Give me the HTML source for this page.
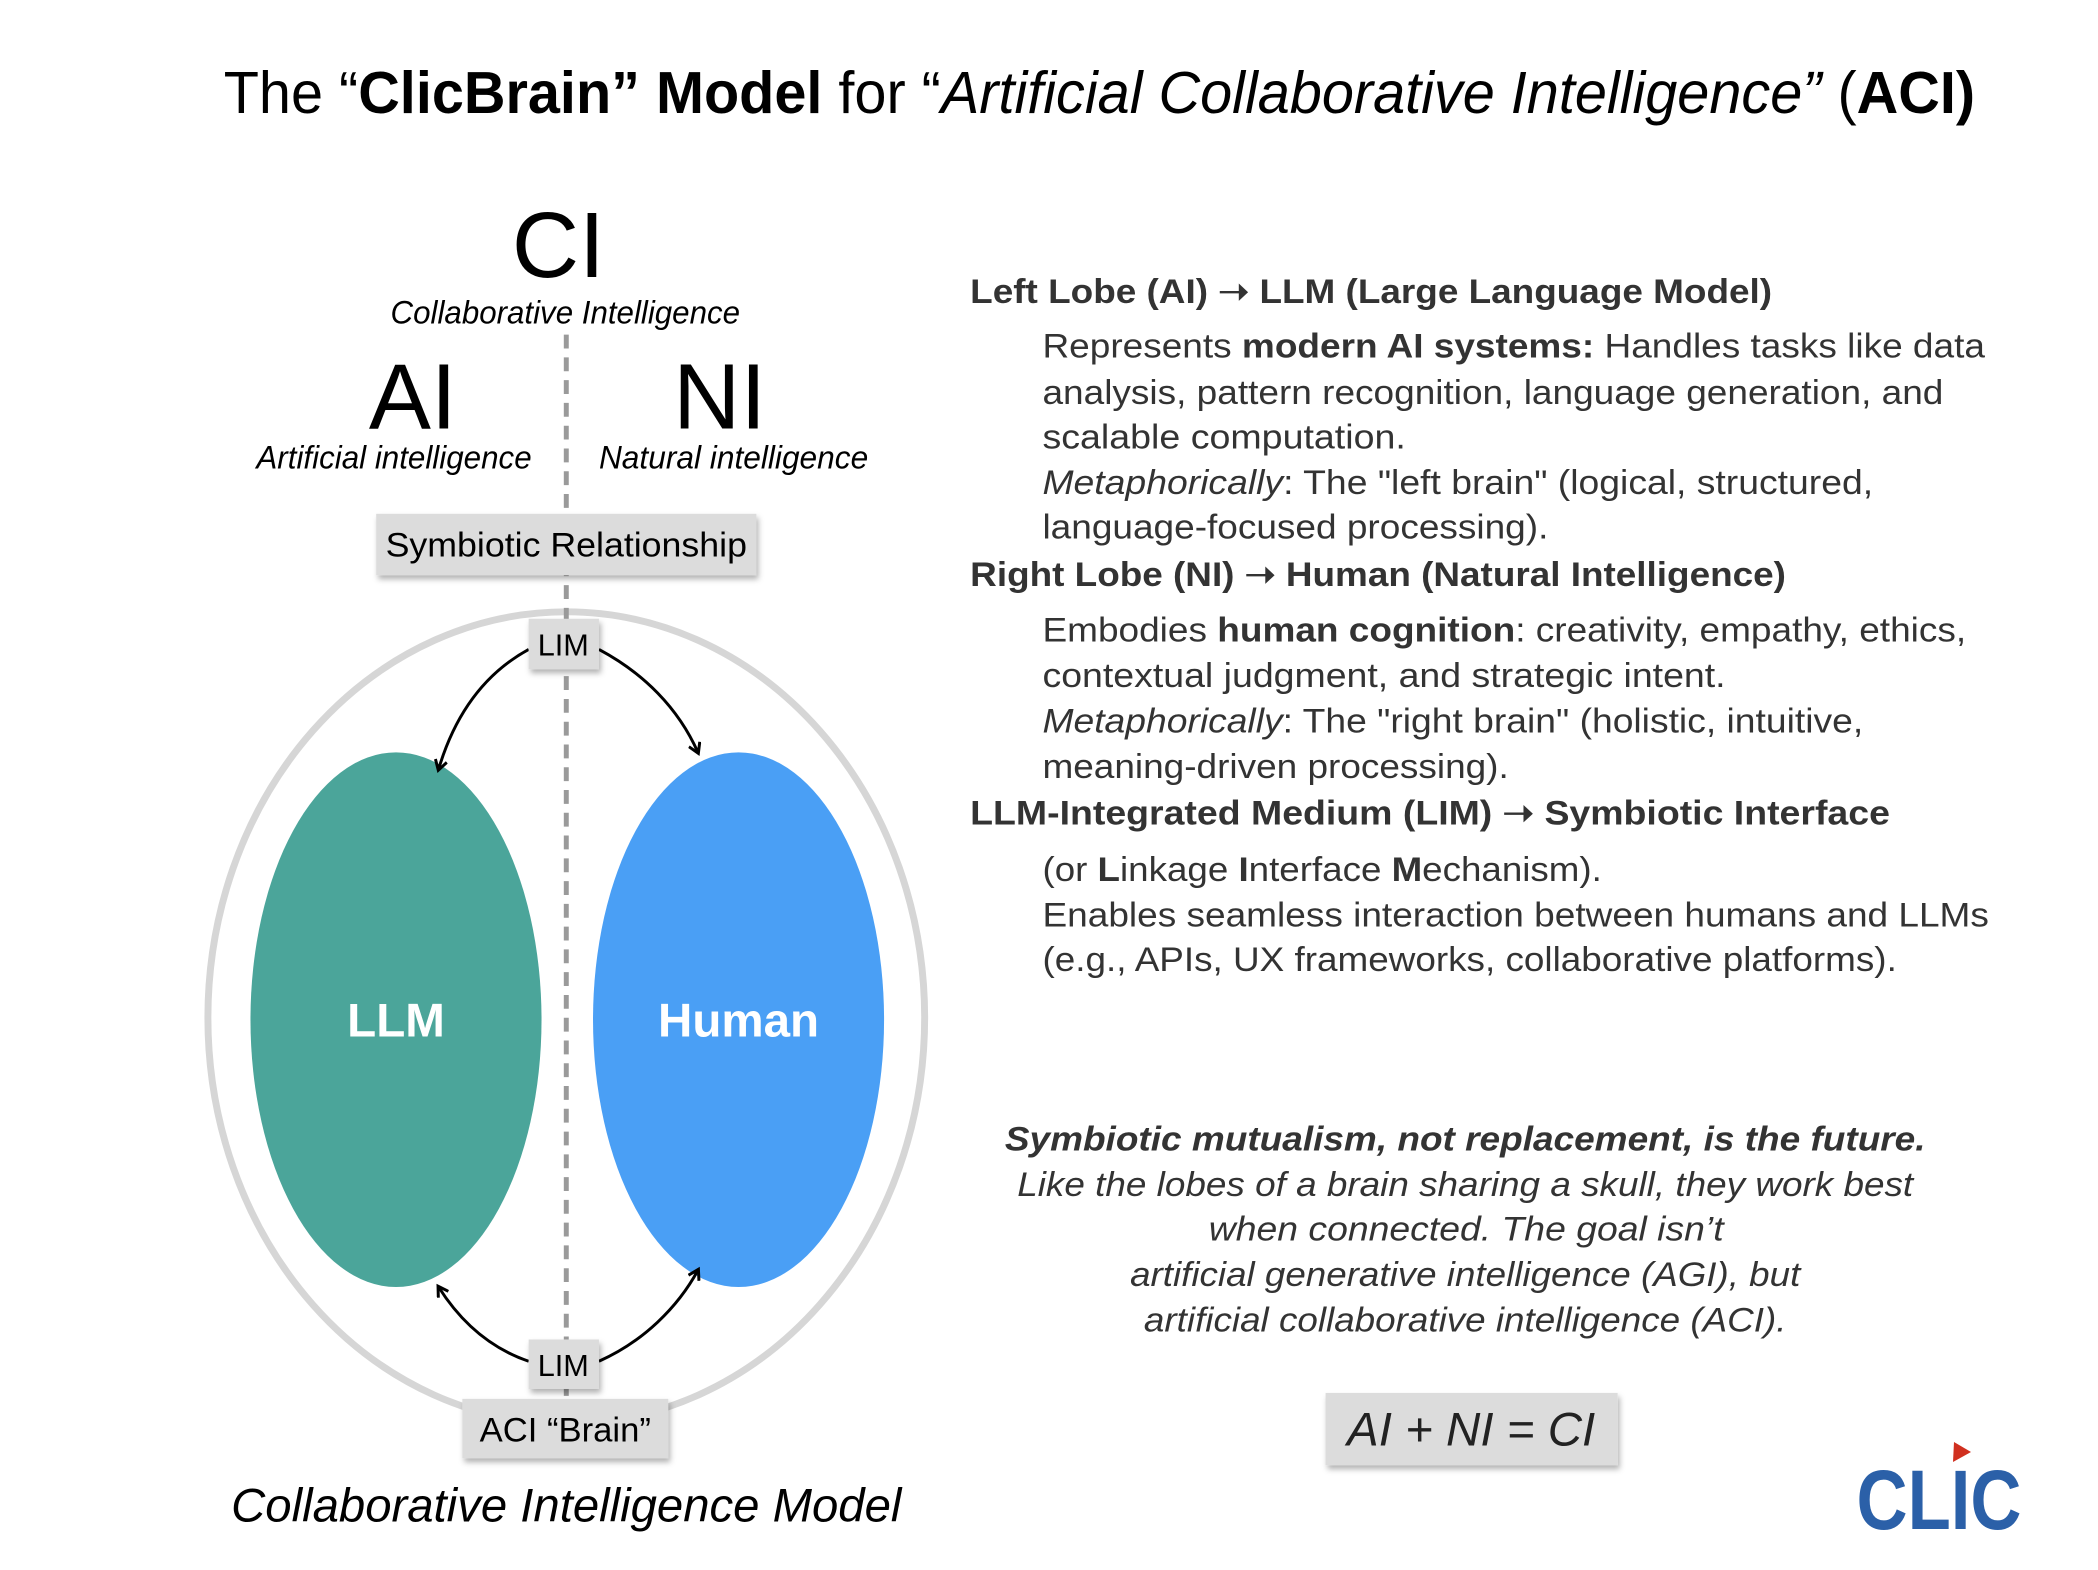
<!DOCTYPE html>
<html><head><meta charset="utf-8"><style>
html,body{margin:0;padding:0;background:#fff;}
svg{display:block;font-family:"Liberation Sans",Arial,sans-serif;}
</style></head><body>
<svg width="2098" height="1570" viewBox="0 0 2098 1570" xmlns="http://www.w3.org/2000/svg">
<defs>
<filter id="sh" x="-20%" y="-20%" width="140%" height="150%"><feDropShadow dx="2" dy="4" stdDeviation="3" flood-color="#000" flood-opacity="0.3"/></filter>
<marker id="ah" markerWidth="14" markerHeight="14" refX="10" refY="7" orient="auto" markerUnits="userSpaceOnUse"><path d="M1,1 L11,7 L1,13" fill="none" stroke="#000" stroke-width="3"/></marker>
</defs>
<rect width="2098" height="1570" fill="#fff"/>
<g transform="scale(0.99)">
<!-- Title -->
<text x="226" y="114" font-size="60" fill="#000" textLength="1769" lengthAdjust="spacingAndGlyphs">The “<tspan font-weight="bold">ClicBrain” Model</tspan> for “<tspan font-style="italic">Artificial Collaborative Intelligence”</tspan> (<tspan font-weight="bold">ACI)</tspan></text>

<!-- left diagram -->
<text x="564" y="280" font-size="94" text-anchor="middle">CI</text>
<text x="571" y="327" font-size="33" font-style="italic" text-anchor="middle" textLength="353" lengthAdjust="spacingAndGlyphs">Collaborative Intelligence</text>
<text x="417" y="433" font-size="94" text-anchor="middle">AI</text>
<text x="727" y="433" font-size="94" text-anchor="middle">NI</text>
<text x="398" y="473" font-size="33" font-style="italic" text-anchor="middle" textLength="278" lengthAdjust="spacingAndGlyphs">Artificial intelligence</text>
<text x="741" y="473" font-size="33" font-style="italic" text-anchor="middle" textLength="272" lengthAdjust="spacingAndGlyphs">Natural intelligence</text>

<ellipse cx="572" cy="1028" rx="362" ry="410" fill="none" stroke="#d6d6d6" stroke-width="7"/>
<ellipse cx="400" cy="1030" rx="147" ry="270" fill="#4ba59a"/>
<ellipse cx="746" cy="1030" rx="147" ry="270" fill="#4a9ff5"/>
<line x1="572" y1="338" x2="572" y2="1434" stroke="#9a9a9a" stroke-width="5" stroke-dasharray="14,9"/>
<text x="400" y="1047" font-size="48" font-weight="bold" fill="#fff" text-anchor="middle">LLM</text>
<text x="746" y="1047" font-size="48" font-weight="bold" fill="#fff" text-anchor="middle">Human</text>

<rect x="380" y="519" width="384" height="62" fill="#dcdcdc" filter="url(#sh)"/>
<text x="572" y="562" font-size="35" text-anchor="middle" textLength="365" lengthAdjust="spacingAndGlyphs">Symbiotic Relationship</text>

<path d="M534,656 C490,680 460,720 443,777" fill="none" stroke="#000" stroke-width="3" marker-end="url(#ah)"/>
<path d="M605,656 C650,680 685,715 705,760" fill="none" stroke="#000" stroke-width="3" marker-end="url(#ah)"/>
<path d="M534,1375 C490,1360 462,1330 443,1300" fill="none" stroke="#000" stroke-width="3" marker-end="url(#ah)"/>
<path d="M605,1375 C650,1355 685,1320 705,1283" fill="none" stroke="#000" stroke-width="3" marker-end="url(#ah)"/>

<rect x="534" y="625" width="71" height="51" fill="#dcdcdc" filter="url(#sh)"/>
<text x="569" y="662" font-size="31" text-anchor="middle">LIM</text>
<rect x="534" y="1353" width="71" height="50" fill="#dcdcdc" filter="url(#sh)"/>
<text x="569" y="1390" font-size="31" text-anchor="middle">LIM</text>
<rect x="467" y="1413" width="208" height="60" fill="#dcdcdc" filter="url(#sh)"/>
<text x="571" y="1456" font-size="35" text-anchor="middle">ACI “Brain”</text>

<text x="572" y="1537" font-size="48" font-style="italic" text-anchor="middle" textLength="677" lengthAdjust="spacingAndGlyphs">Collaborative Intelligence Model</text>

<!-- right text -->
<g font-size="35" fill="#333">
<text x="980" y="306" font-weight="bold" textLength="810" lengthAdjust="spacingAndGlyphs">Left Lobe (AI) ➝ LLM (Large Language Model)</text>
<text x="1053" y="361" textLength="952" lengthAdjust="spacingAndGlyphs">Represents <tspan font-weight="bold">modern AI systems:</tspan> Handles tasks like data</text>
<text x="1053" y="408" textLength="910" lengthAdjust="spacingAndGlyphs">analysis, pattern recognition, language generation, and</text>
<text x="1053" y="453" textLength="367" lengthAdjust="spacingAndGlyphs">scalable computation.</text>
<text x="1053" y="499" textLength="839" lengthAdjust="spacingAndGlyphs"><tspan font-style="italic">Metaphorically</tspan>: The "left brain" (logical, structured,</text>
<text x="1053" y="544" textLength="511" lengthAdjust="spacingAndGlyphs">language-focused processing).</text>
<text x="980" y="592" font-weight="bold" textLength="824" lengthAdjust="spacingAndGlyphs">Right Lobe (NI) ➝ Human (Natural Intelligence)</text>
<text x="1053" y="648" textLength="933" lengthAdjust="spacingAndGlyphs">Embodies <tspan font-weight="bold">human cognition</tspan>: creativity, empathy, ethics,</text>
<text x="1053" y="694" textLength="690" lengthAdjust="spacingAndGlyphs">contextual judgment, and strategic intent.</text>
<text x="1053" y="740" textLength="829" lengthAdjust="spacingAndGlyphs"><tspan font-style="italic">Metaphorically</tspan>: The "right brain" (holistic, intuitive,</text>
<text x="1053" y="786" textLength="471" lengthAdjust="spacingAndGlyphs">meaning-driven processing).</text>
<text x="980" y="833" font-weight="bold" textLength="929" lengthAdjust="spacingAndGlyphs">LLM-Integrated Medium (LIM) ➝ Symbiotic Interface</text>
<text x="1053" y="890" textLength="565" lengthAdjust="spacingAndGlyphs">(or <tspan font-weight="bold">L</tspan>inkage <tspan font-weight="bold">I</tspan>nterface <tspan font-weight="bold">M</tspan>echanism).</text>
<text x="1053" y="936" textLength="956" lengthAdjust="spacingAndGlyphs">Enables seamless interaction between humans and LLMs</text>
<text x="1053" y="981" textLength="863" lengthAdjust="spacingAndGlyphs">(e.g., APIs, UX frameworks, collaborative platforms).</text>
</g>
<g font-size="35" fill="#333" font-style="italic" text-anchor="middle">
<text x="1480" y="1162" font-weight="bold" textLength="930" lengthAdjust="spacingAndGlyphs">Symbiotic mutualism, not replacement, is the future.</text>
<text x="1480" y="1208" textLength="905" lengthAdjust="spacingAndGlyphs">Like the lobes of a brain sharing a skull, they work best</text>
<text x="1481" y="1253" textLength="520" lengthAdjust="spacingAndGlyphs">when connected. The goal isn’t</text>
<text x="1480" y="1299" textLength="677" lengthAdjust="spacingAndGlyphs">artificial generative intelligence (AGI), but</text>
<text x="1480" y="1345" textLength="649" lengthAdjust="spacingAndGlyphs">artificial collaborative intelligence (ACI).</text>
</g>
<rect x="1339" y="1407" width="295" height="73" fill="#dcdcdc" filter="url(#sh)"/>
<text x="1486" y="1460" font-size="48" font-style="italic" text-anchor="middle" fill="#222">AI + NI = CI</text>
</g>
<!-- CLIC logo -->
<polygon points="1954,1442 1971,1452 1953,1462" fill="#d0301f"/>
<text x="1939" y="1529" font-size="84" font-weight="bold" fill="#2b60a8" text-anchor="middle" textLength="165" lengthAdjust="spacingAndGlyphs">CLIC</text>
</svg>
</body></html>
